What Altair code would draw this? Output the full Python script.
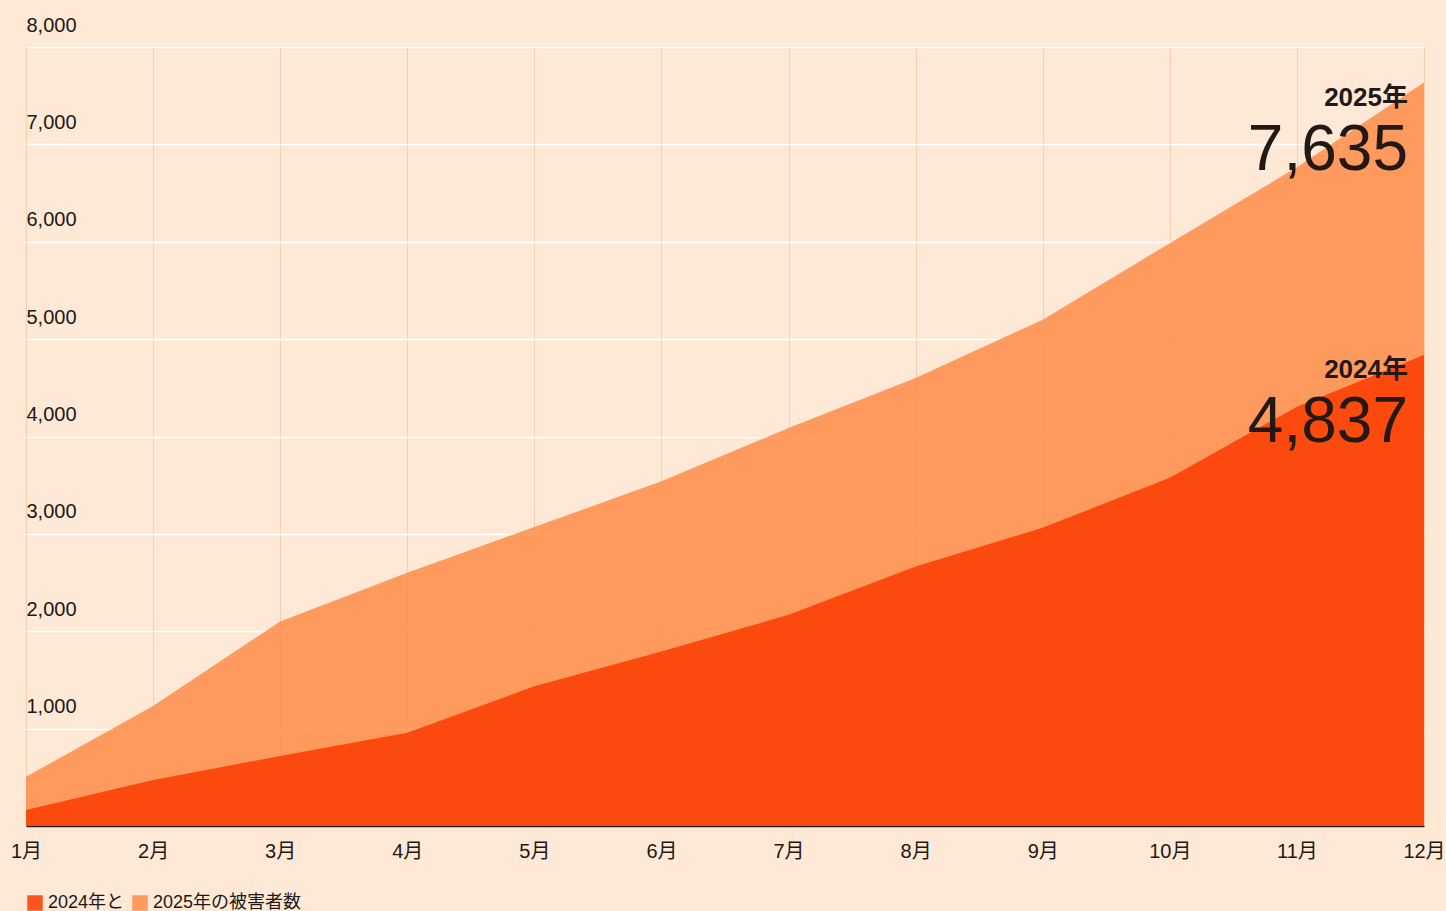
import altair as alt
import pandas as pd

months = list(range(1, 13))
series_2024 = [164, 473, 719, 957, 1435, 1791, 2169, 2665, 3062, 3577, 4306, 4837]
series_2025 = [505, 1233, 2100, 2600, 3070, 3540, 4087, 4601, 5200, 5985, 6765, 7635]
series_names = ["2024", "2025"]
legend_labels = ["2024年と", "2025年の被害者数"]
y_ticks = [1000, 2000, 3000, 4000, 5000, 6000, 7000, 8000]

rows = []
for m, a, b in zip(months, series_2024, series_2025):
    rows.append({"month": m, "series": "2024", "value": a})
    rows.append({"month": m, "series": "2025", "value": b})
df = pd.DataFrame(rows)

ann = pd.DataFrame({
    "month": [12, 12],
    "value": [series_2025[-1], series_2024[-1]],
    "year": ["2025年", "2024年"],
    "num": [f"{series_2025[-1]:,}", f"{series_2024[-1]:,}"],
})

FONT = "Liberation Sans, Noto Sans CJK JP, sans-serif"
TEXT = "#231815"

x_enc = alt.X(
    "month:Q",
    scale=alt.Scale(domain=[1, 12], nice=False, zero=False),
    axis=alt.Axis(
        values=months, title=None, labelExpr="datum.value + '月'",
        labelFontSize=20, labelColor=TEXT, labelPadding=15, ticks=False,
        domainColor=TEXT, domainWidth=1.5, grid=True, gridColor="#f7cfae",
        gridWidth=1, labelFont=FONT, labelFlush=False,
    ),
)
y_enc = alt.Y(
    "value:Q",
    scale=alt.Scale(domain=[0, 8000], nice=False),
    axis=alt.Axis(
        values=y_ticks, title=None, format=",.0f", labelAlign="left",
        labelBaseline="alphabetic", labelOffset=-16, labelPadding=0,
        ticks=False, domain=False, labelFontSize=20, labelColor=TEXT,
        grid=True, gridColor="#ffffff", gridWidth=1.3, labelFont=FONT,
    ),
)
color_enc = alt.Color(
    "series:N",
    scale=alt.Scale(domain=series_names, range=["#fc3c00", "#fe8c49"]),
    legend=alt.Legend(
        orient="none", legendX=0, legendY=847, direction="horizontal",
        title=None, symbolType="square", symbolSize=240, symbolStrokeWidth=0,
        labelFontSize=18, labelColor=TEXT, labelFont=FONT, columnPadding=6,
        labelOffset=4, padding=0,
        labelExpr=f"datum.value == '2024' ? '{legend_labels[0]}' : '{legend_labels[1]}'",
    ),
)

base = alt.Chart(df)
area25 = base.transform_filter("datum.series == '2025'").mark_area(
    interpolate="linear", opacity=0.85
).encode(x=x_enc, y=y_enc, color=color_enc)
area24 = base.transform_filter("datum.series == '2024'").mark_area(
    interpolate="linear", opacity=0.85
).encode(x=x_enc, y=y_enc, color=color_enc)

ann_base = alt.Chart(ann)
year_text = ann_base.mark_text(
    align="right", baseline="alphabetic", dx=-16, dy=23, fontSize=26,
    fontWeight="bold", font=FONT, color=TEXT
).encode(x="month:Q", y="value:Q", text="year:N")
num_text = ann_base.mark_text(
    align="right", baseline="alphabetic", dx=-16, dy=87, fontSize=64,
    font=FONT, color=TEXT
).encode(x="month:Q", y="value:Q", text="num:N")

chart = alt.layer(area25, area24, year_text, num_text).properties(
    width=1398, height=779,
    autosize=alt.AutoSizeParams(type="none"),
    padding={"left": 26, "top": 47, "right": 22, "bottom": 85},
    background="#fee8d6",
).configure_view(stroke=None)

chart.save("out.html", embed_options={"renderer": "svg", "actions": False})
